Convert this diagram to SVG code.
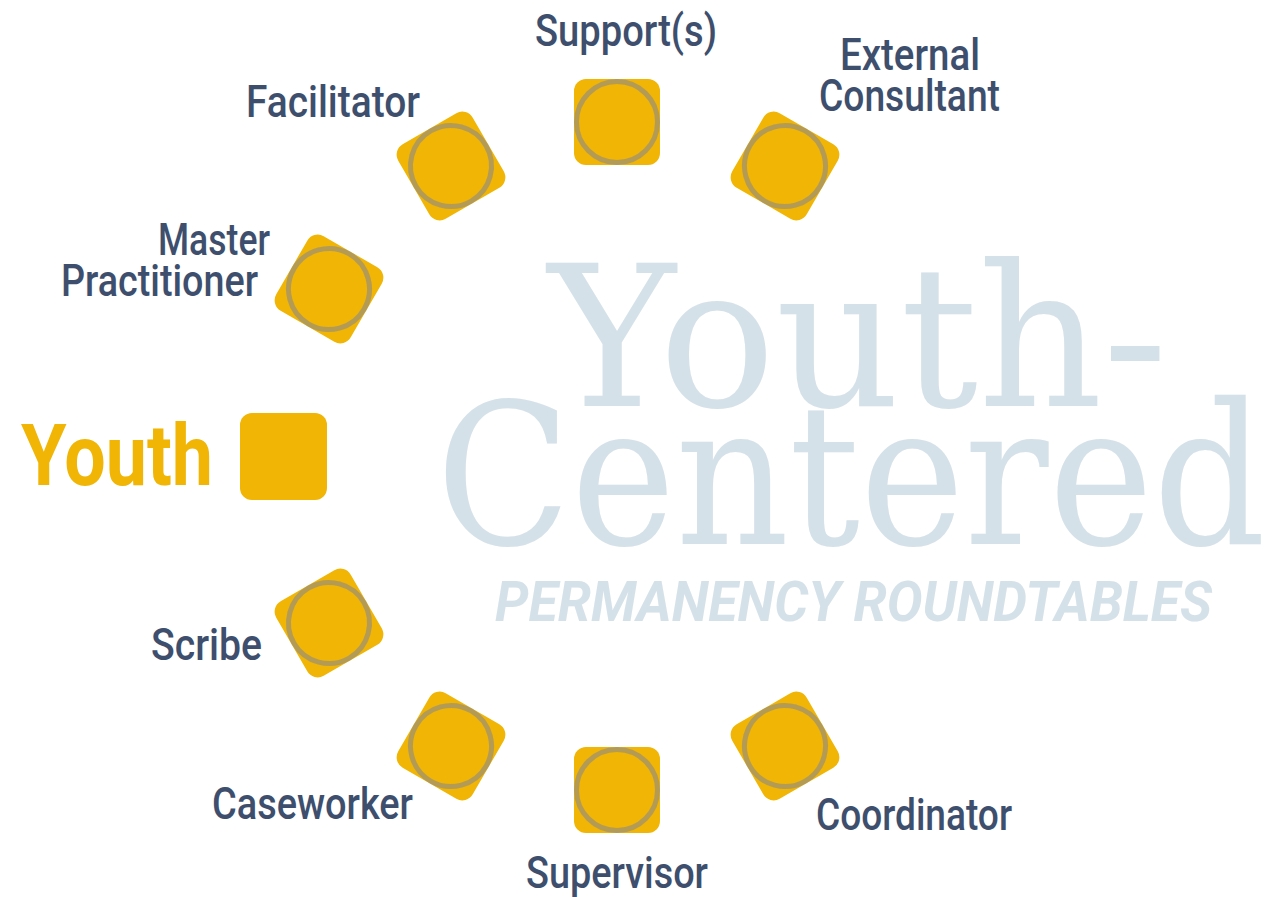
<svg xmlns="http://www.w3.org/2000/svg" width="1274" height="897" viewBox="0 0 1274 897">
<defs>
<style>
.sq{fill:#f0b505}
.ring{fill:none;stroke:#8a8a8a;stroke-opacity:0.6;stroke-width:5}
.lbl{font-family:"Liberation Sans Narrow","Roboto","Liberation Sans",sans-serif;font-size:44px;font-weight:500;fill:#3e4f6e}
.youth{font-family:"Liberation Sans Narrow","Roboto","Liberation Sans",sans-serif;font-size:86px;font-weight:bold;fill:#f0b505}
.wm{font-family:"DejaVu Serif","Liberation Serif",serif;font-size:196px;fill:#d5e1e9}
.sub{font-family:"Liberation Sans Narrow","Roboto","Liberation Sans",sans-serif;font-size:56px;font-weight:bold;font-style:italic;fill:#d5e1e9}
</style>
<g id="tile">
<rect class="sq" x="-43" y="-43" width="86" height="86" rx="12"/>
<circle class="ring" r="40.5"/>
</g>
</defs>
<rect width="1274" height="897" fill="#ffffff"/>
<g id="watermark">
<text class="wm" x="548" y="406" textLength="620" lengthAdjust="spacingAndGlyphs">Youth-</text>
<text class="wm" x="436" y="544" textLength="830" lengthAdjust="spacingAndGlyphs">Centered</text>
<text class="sub" x="495" y="621" textLength="717" lengthAdjust="spacingAndGlyphs">PERMANENCY ROUNDTABLES</text>
</g>
<g id="support">
<use href="#tile" transform="translate(617,122)"/>
<text class="lbl" x="535" y="46" textLength="182" lengthAdjust="spacingAndGlyphs">Support(s)</text>
</g>
<g id="external-consultant">
<use href="#tile" transform="translate(785,166) rotate(30)"/>
<text class="lbl" x="840" y="70" textLength="140" lengthAdjust="spacingAndGlyphs">External</text>
<text class="lbl" x="819" y="111" textLength="181" lengthAdjust="spacingAndGlyphs">Consultant</text>
</g>
<g id="facilitator">
<use href="#tile" transform="translate(451,166) rotate(-30)"/>
<text class="lbl" x="246" y="117" textLength="174" lengthAdjust="spacingAndGlyphs">Facilitator</text>
</g>
<g id="master-practitioner">
<use href="#tile" transform="translate(329,289) rotate(30)"/>
<text class="lbl" x="158" y="255" textLength="112" lengthAdjust="spacingAndGlyphs">Master</text>
<text class="lbl" x="61" y="296" textLength="197" lengthAdjust="spacingAndGlyphs">Practitioner</text>
</g>
<g id="youth">
<rect class="sq" x="240" y="413" width="87" height="87" rx="12"/>
<text class="youth" x="21" y="485" textLength="192" lengthAdjust="spacingAndGlyphs">Youth</text>
</g>
<g id="scribe">
<use href="#tile" transform="translate(329,623) rotate(-30)"/>
<text class="lbl" x="151" y="660" textLength="111" lengthAdjust="spacingAndGlyphs">Scribe</text>
</g>
<g id="caseworker">
<use href="#tile" transform="translate(451,746) rotate(30)"/>
<text class="lbl" x="212" y="819" textLength="201" lengthAdjust="spacingAndGlyphs">Caseworker</text>
</g>
<g id="supervisor">
<use href="#tile" transform="translate(617,790)"/>
<text class="lbl" x="526" y="888" textLength="182" lengthAdjust="spacingAndGlyphs">Supervisor</text>
</g>
<g id="coordinator">
<use href="#tile" transform="translate(785,746) rotate(-30)"/>
<text class="lbl" x="816" y="830" textLength="196" lengthAdjust="spacingAndGlyphs">Coordinator</text>
</g>
<g id="connectors"/>
</svg>
